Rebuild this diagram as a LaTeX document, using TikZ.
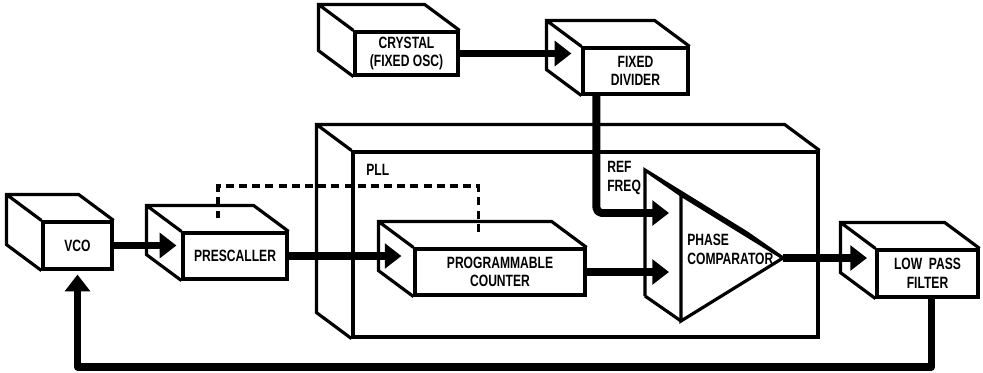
\documentclass[tikz,border=0pt]{standalone}
\usepackage{fontspec}
\setmainfont{Liberation Sans}[FakeStretch=0.74]
\usepackage{tikz}
\usetikzlibrary{arrows.meta,calc}
\newcommand{\boxfont}{\fontsize{9.3}{10.5}\selectfont\bfseries}
\newcommand{\drawback}[1]{%
  \draw[edge] (#1.south west) -- ++(-35,-26) |- ($(#1.north east)+(-35,-26)$) -- (#1.north east)
    (#1.north west) -- ++(-35,-26);}

\begin{document}
\begin{tikzpicture}[x=0.02cm, y=-0.02cm,
  edge/.style={line width=1.8pt, line join=miter},
  unit/.style={edge, draw, fill=white, inner sep=0pt, align=center, font=\boxfont},
  flow/.style={-{Triangle[length=9.5pt,width=14pt]}, line width=4.5pt, line join=round},
  ctrl/.style={line width=2.2pt, dash pattern=on 4.5pt off 3pt},
  tag/.style={inner sep=0pt, align=left, font=\boxfont}
]
\useasboundingbox (0,0) rectangle (983,372);
\node[unit, minimum width=9.3cm, minimum height=3.7cm] (pll) at (585.5,244.5) {};
\drawback{pll}
\node[unit, minimum width=1.38cm, minimum height=0.94cm] (vco) at (77.5,245.5) {VCO};
\drawback{vco}
\node[unit, minimum width=2.08cm, minimum height=0.92cm] (psc) at (235,256) {PRESCALLER};
\drawback{psc}
\node[unit, minimum width=2.06cm, minimum height=0.86cm] (xtal) at (406.5,53.5) {CRYSTAL\\(FIXED OSC)};
\drawback{xtal}
\node[unit, minimum width=2.1cm, minimum height=0.92cm] (fdiv) at (635.5,71) {FIXED\\DIVIDER};
\drawback{fdiv}
\node[unit, minimum width=3.4cm, minimum height=0.92cm] (cnt) at (500,272) {PROGRAMMABLE\\COUNTER};
\drawback{cnt}
\node[unit, minimum width=2.02cm, minimum height=0.94cm] (lpf) at (927.5,273.5) {LOW\ \ PASS\\FILTER};
\drawback{lpf}
\coordinate (pcA) at (681,195);
\coordinate (pcB) at (681,321);
\coordinate (pcT) at (783,258);
\draw[edge] ($(pcB)+(-36,-25)$) -- ($(pcA)+(-36,-25)$) -- ($(pcT)+(-36,-25)$) -- (pcT)
  ($(pcA)+(-36,-25)$) -- (pcA) ($(pcB)+(-36,-25)$) -- (pcB);
\draw[edge, fill=white] (pcA) -- (pcB) -- (pcT) -- cycle;
\node[tag, anchor=west] (pcl) at (687,249.5) {PHASE\\COMPARATOR};
\node[tag, anchor=west] (pllt) at (366,170) {PLL};
\node[tag, anchor=west] (ref) at (607,178) {REF\\FREQ};
\coordinate (pcin1) at (669,213);
\coordinate (pcin2) at (669,272);
\coordinate (lpfin) at (867,258);
\draw[flow] (vco.east) -- ($(vco.east -| psc.west)+(-5,0)$);
\draw[flow] (psc.east) -- ($(psc.east -| cnt.west)+(-12,0)$);
\draw[flow] (xtal.east) -- ($(xtal.east -| fdiv.west)+(-10,0)$);
\draw[flow, rounded corners=3pt] ($(fdiv.south west)+(15,0)$) |- (pcin1);
\draw[flow] (cnt.east) -- (pcin2);
\draw[flow] (pcT) -- (lpfin);
\draw[flow] ($(lpf.south)+(4,0)$) -- ++(0,68) -| ($(vco.south)+(0,4)$);
\draw[ctrl] ($(psc.north west)+(37,-13)$) -- ++(0,-32) -| ($(cnt.north west)+(65,-12)$);
\end{tikzpicture}
\end{document}
